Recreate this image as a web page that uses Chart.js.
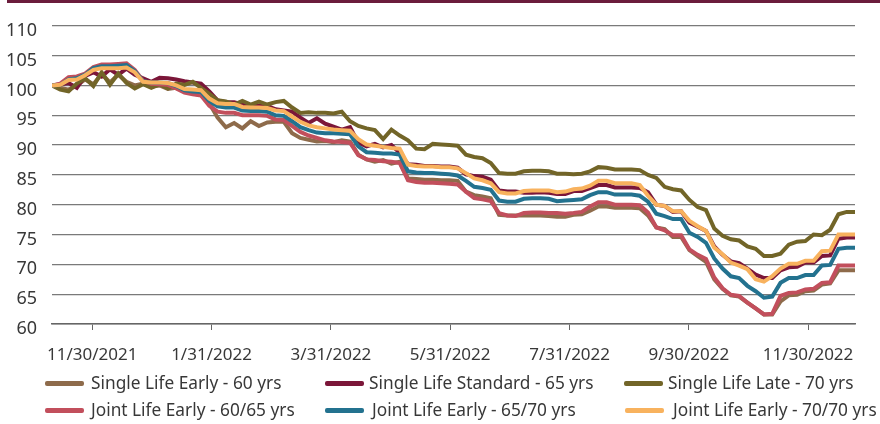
<!DOCTYPE html>
<html>
<head>
<meta charset="utf-8">
<script src="https://cdn.jsdelivr.net/npm/chart.js@4.4.1/dist/chart.umd.min.js"></script>
<style>
  html, body { margin: 0; padding: 0; background: #fff; }
  #wrap { position: relative; width: 880px; height: 424px; overflow: hidden; }
  #topbar { position: absolute; left: 7px; right: 0; top: 0; height: 3px; background: #6b1d3c; }
  #chart { position: absolute; left: 0; top: 0; }
  .item { position: absolute; height: 20px; font-family: "Noto Sans", sans-serif; font-size: 17.3px; color: #383838; white-space: nowrap; }
  .item span.sw { position: absolute; left: 0; top: 8px; width: 39px; height: 5px; border-radius: 2px; }
  .item span.tx { position: absolute; top: -2px; }
</style>
</head>
<body>
<div id="wrap">
  <canvas id="chart" width="880" height="424"></canvas>
  <div id="topbar"></div>
  <div id="legend"></div>
</div>
<script>
// trading-day index of every point (one point per 3 trading days, from 11/9/2021)
const STEP = 3;
const tickDays = [14.6, 57.8, 101.1, 144.3, 187.6, 230.8, 274.0];
const tickLabels = ['11/30/2021', '1/31/2022', '3/31/2022', '5/31/2022', '7/31/2022', '9/30/2022', '11/30/2022'];

const seriesNames = [
  'Single Life Early - 60 yrs',
  'Single Life Standard - 65 yrs',
  'Single Life Late - 70 yrs',
  'Joint Life Early - 60/65 yrs',
  'Joint Life Early - 65/70 yrs',
  'Joint Life Early - 70/70 yrs'
];

const single60 = [100, 99.6, 99.3, 100.0, 101.0, 100.2, 101.9, 100.5, 101.8, 100.6,
  100.0, 100.3, 99.8, 100.0, 99.4, 99.6, 99.0, 98.7, 98.4, 97.0,
  94.6, 93.0, 93.7, 92.8, 94.0, 93.2, 93.8, 93.9, 93.9, 92.0,
  91.2, 90.9, 90.6, 90.7, 90.5, 90.8, 90.6, 88.4, 87.6, 87.2,
  87.5, 86.9, 87.2, 84.4, 84.3, 84.2, 84.2, 84.1, 84.1, 84.0,
  82.2, 81.6, 81.4, 81.1, 78.3, 78.2, 78.2, 78.2, 78.2, 78.2,
  78.1, 78.0, 78.0, 78.3, 78.4, 79.0, 79.7, 79.7, 79.5, 79.5,
  79.5, 79.4, 78.2, 76.2, 75.9, 74.6, 74.6, 72.4, 71.4, 70.4,
  67.5, 65.9, 64.8, 64.6, 63.6, 62.6, 61.6, 61.6, 63.8, 64.8,
  64.9, 65.5, 65.6, 66.6, 66.8, 69.0, 69.0, 69.0];

const single65 = [100, 100.2, 100.4, 99.6, 101.6, 102.2, 101.5, 102.7, 101.8, 102.8,
  101.8, 101.2, 100.6, 101.3, 101.2, 101.0, 100.7, 100.5, 100.3, 99.0,
  97.5, 97.2, 97.2, 96.8, 96.7, 96.6, 96.6, 96.0, 95.8, 95.6,
  94.6, 93.7, 94.5, 93.6, 93.1, 92.6, 93.0, 90.4, 89.8, 90.2,
  89.6, 90.0, 88.7, 86.8, 86.7, 86.5, 86.5, 86.4, 86.4, 86.2,
  85.1, 84.8, 84.7, 84.2, 82.4, 82.2, 82.2, 82.0, 82.0, 82.1,
  82.0, 81.8, 81.8, 82.3, 82.3, 82.8, 83.3, 83.3, 82.9, 82.9,
  82.9, 82.8, 82.1, 80.0, 79.8, 78.8, 78.9, 77.0, 76.3, 75.6,
  73.0, 71.6, 70.5, 70.2, 69.3, 68.3, 67.7, 67.7, 69.0, 69.5,
  69.6, 70.3, 70.3, 71.4, 71.5, 74.3, 74.5, 74.5];

const single70 = [100, 99.3, 99.0, 100.3, 101.2, 99.9, 102.2, 100.1, 102.0, 100.4,
  99.5, 100.2, 99.6, 100.2, 99.5, 100.3, 100.1, 100.6, 99.6, 98.6,
  97.5, 97.3, 96.8, 97.4, 96.8, 97.3, 96.8, 97.2, 97.4, 96.3,
  95.4, 95.5, 95.4, 95.4, 95.3, 95.6, 94.0, 93.2, 92.8, 92.5,
  91.0, 92.6, 91.6, 90.8, 89.4, 89.3, 90.2, 90.1, 90.0, 89.9,
  88.4, 88.0, 87.8, 87.0, 85.3, 85.2, 85.2, 85.6, 85.7, 85.7,
  85.6, 85.2, 85.2, 85.1, 85.2, 85.6, 86.3, 86.2, 85.9, 85.9,
  85.9, 85.8, 85.0, 84.5, 83.0, 82.6, 82.4, 80.8, 79.6, 79.1,
  76.0, 74.8, 74.2, 74.0, 73.0, 72.6, 71.4, 71.4, 71.8, 73.3,
  73.8, 73.9, 75.0, 74.9, 75.8, 78.4, 78.8, 78.8];

const joint6065 = [100, 100.3, 101.4, 101.5, 102.0, 103.1, 103.5, 103.5, 103.6, 103.7,
  102.6, 100.8, 100.3, 100.2, 100.1, 99.5, 98.8, 98.5, 98.3, 96.6,
  95.6, 95.4, 95.4, 95.0, 95.0, 95.0, 94.9, 94.3, 94.2, 93.2,
  92.2, 91.6, 91.2, 90.8, 90.6, 90.5, 90.4, 88.3, 87.6, 87.5,
  87.3, 87.2, 87.0, 84.1, 83.8, 83.7, 83.7, 83.6, 83.5, 83.4,
  82.2, 81.1, 80.9, 80.6, 78.6, 78.2, 78.1, 78.6, 78.7, 78.7,
  78.6, 78.6, 78.5, 78.6, 78.8, 79.7, 80.4, 80.4, 80.0, 80.0,
  80.0, 79.9, 78.7, 76.2, 75.7, 74.9, 74.9, 72.5, 71.6, 70.9,
  67.8, 66.0, 64.9, 64.7, 63.6, 62.6, 61.6, 61.7, 64.7, 65.2,
  65.3, 65.8, 65.9, 66.9, 67.0, 69.8, 69.8, 69.8];

const joint6570 = [100, 100.1, 101.0, 101.2, 101.8, 102.9, 103.2, 103.2, 103.3, 103.4,
  102.4, 100.7, 100.5, 100.5, 100.4, 99.9, 99.2, 99.0, 98.9, 97.4,
  96.5, 96.3, 96.3, 95.8, 95.7, 95.7, 95.6, 95.0, 94.9, 94.0,
  93.0, 92.5, 92.1, 92.0, 92.0, 91.9, 91.8, 89.8, 88.8, 88.7,
  88.6, 88.6, 88.4, 85.6, 85.4, 85.3, 85.3, 85.2, 85.1, 84.9,
  84.0, 83.0, 82.8, 82.5, 80.7, 80.5, 80.5, 81.0, 81.1, 81.1,
  81.0, 80.6, 80.7, 80.8, 80.9, 81.6, 82.1, 82.1, 81.7, 81.7,
  81.7, 81.5, 80.5, 78.5, 78.1, 77.6, 77.6, 75.3, 74.6, 73.6,
  71.0, 69.3, 68.0, 67.7, 66.4, 65.5, 64.4, 64.6, 66.9, 67.7,
  67.7, 68.2, 68.2, 69.8, 69.9, 72.6, 72.8, 72.8];

const joint7070 = [100, 100.1, 100.9, 101.0, 101.7, 102.6, 102.9, 102.9, 102.9, 103.0,
  102.2, 100.6, 100.5, 100.5, 100.4, 100.0, 99.4, 99.3, 99.2, 97.8,
  97.0, 96.9, 96.9, 96.4, 96.3, 96.3, 96.2, 95.8, 95.7, 94.8,
  93.9, 93.3, 93.0, 92.8, 92.6, 92.5, 92.4, 91.0, 90.1, 89.9,
  89.7, 89.5, 89.4, 86.7, 86.5, 86.4, 86.4, 86.3, 86.3, 86.1,
  85.3, 84.4, 84.1, 83.6, 82.1, 81.9, 81.9, 82.3, 82.4, 82.4,
  82.4, 82.1, 82.2, 82.6, 82.7, 83.2, 84.0, 84.0, 83.6, 83.6,
  83.6, 83.3, 81.5, 80.0, 79.8, 78.9, 78.9, 77.3, 76.4, 75.6,
  72.8, 71.7, 70.3, 69.8, 69.2, 67.5, 67.1, 68.0, 69.3, 70.1,
  70.1, 70.6, 70.6, 72.2, 72.3, 75.0, 75.0, 75.0];

const seriesData = [single60, single65, single70, joint6065, joint6570, joint7070];
const colors = ['#8e6b4b', '#7b1639', '#726528', '#c24f5c', '#23728f', '#f8b25e'];

function toPoints(values) {
  return values.map((v, i) => ({ x: i * STEP, y: v }));
}

// later series are painted on top, like the original
const datasets = seriesData.map((vals, k) => ({
  label: seriesNames[k],
  data: toPoints(vals),
  borderColor: colors[k],
  backgroundColor: colors[k],
  borderWidth: 4,
  pointRadius: 0,
  tension: 0,
  order: seriesData.length - k
}));

const textColor = '#383838';

new Chart(document.getElementById('chart'), {
  type: 'line',
  data: { datasets: datasets },
  options: {
    responsive: false,
    animation: false,
    layout: { padding: { top: 13, right: 25, bottom: 0, left: 0 } },
    plugins: { legend: { display: false }, tooltip: { enabled: false } },
    scales: {
      x: {
        type: 'linear',
        min: 0,
        max: 291,
        afterBuildTicks: (scale) => { scale.ticks = tickDays.map(d => ({ value: d })); },
        afterFit: (scale) => { scale.height = 100; },
        grid: { drawOnChartArea: false, drawTicks: true, tickLength: 6, color: '#666' },
        border: { display: true, color: '#666', width: 1.5 },
        ticks: {
          autoSkip: false,
          maxRotation: 0,
          padding: 15,
          color: textColor,
          font: { family: 'Noto Sans', size: 17 },
          callback: (v, i) => tickLabels[i]
        }
      },
      y: {
        min: 60,
        max: 110,
        afterFit: (scale) => { scale.width = 52; },
        grid: { drawTicks: false, color: '#7a7a7a', lineWidth: 1.2 },
        border: { display: false },
        ticks: {
          stepSize: 5,
          padding: 15,
          labelOffset: 5,
          color: textColor,
          font: { family: 'Noto Sans', size: 18 }
        }
      }
    }
  }
});

// legend laid out in two rows of three, as in the original
const legendPos = [
  [45, 383, 91], [325, 383, 369], [624, 383, 668],
  [45, 410, 91], [325, 410, 372], [625, 410, 673]
];
const legend = document.getElementById('legend');
seriesNames.forEach((name, k) => {
  const p = legendPos[k];
  const item = document.createElement('div');
  item.className = 'item';
  item.style.left = p[0] + 'px';
  item.style.top = (p[1] - 10) + 'px';
  item.innerHTML = '<span class="sw" style="background:' + colors[k] + '"></span>' +
    '<span class="tx" style="left:' + (p[2] - p[0]) + 'px">' + name + '</span>';
  legend.appendChild(item);
});
</script>
</body>
</html>
